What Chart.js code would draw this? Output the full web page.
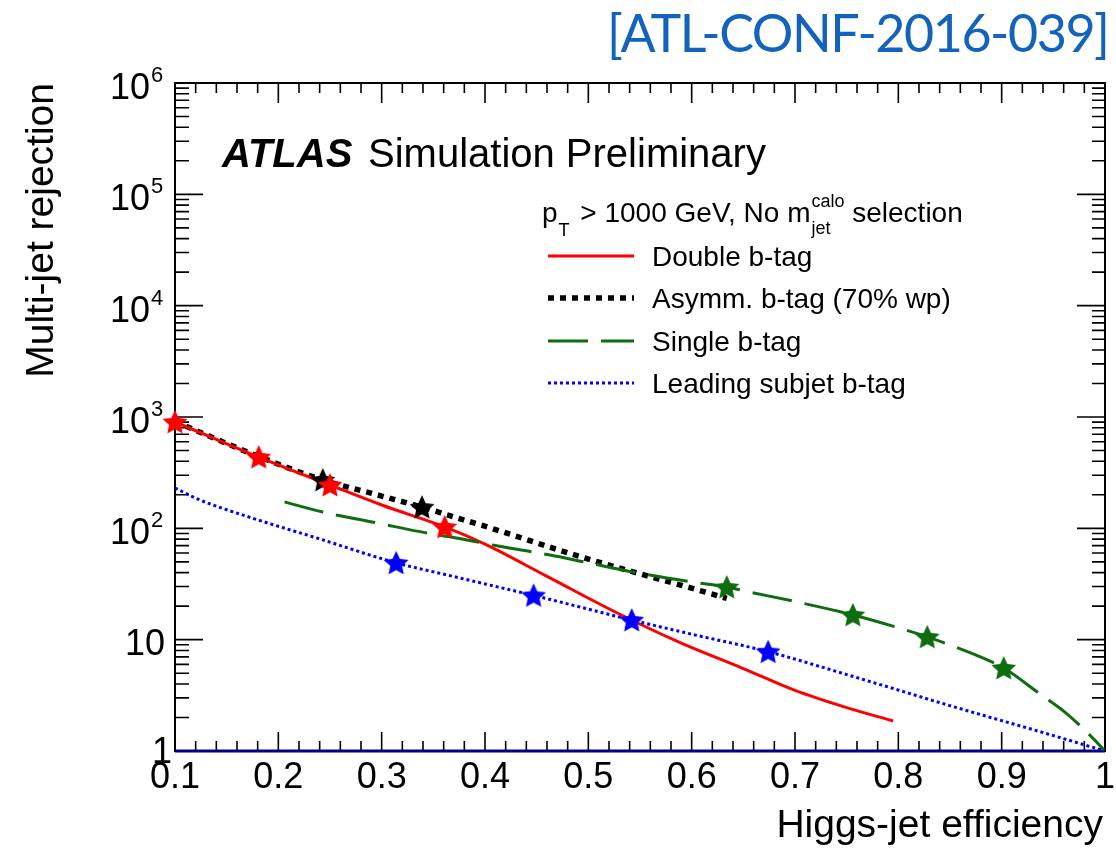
<!DOCTYPE html>
<html>
<head>
<meta charset="utf-8">
<script src="https://cdn.jsdelivr.net/npm/chart.js@4.4.1/dist/chart.umd.min.js"></script>
<style>
  html, body { margin: 0; padding: 0; background: #fff; }
  #wrap { width: 1116px; height: 852px; }
</style>
</head>
<body>
<div id="wrap"><canvas id="c" width="1116" height="852"></canvas></div>
<script>
// Double b-tag
const doubleEff = [0.10, 0.14, 0.181, 0.25, 0.30, 0.361, 0.40, 0.46, 0.53, 0.59, 0.65, 0.70, 0.75, 0.795];
const doubleRej = [903, 630, 437, 245, 162, 103, 72, 37, 17, 9.3, 5.5, 3.5, 2.45, 1.86];
const doubleStarEff = [0.10, 0.181, 0.25, 0.361];
const doubleStarRej = [903, 437, 245, 103];

// Asymm. b-tag (70% wp)
const asymEff = [0.10, 0.18, 0.243, 0.30, 0.339, 0.366, 0.414, 0.45, 0.494, 0.559, 0.60, 0.634];
const asymRej = [910, 445, 272, 195, 155, 130, 95, 74, 55, 37, 29, 23.5];
const asymStarEff = [0.243, 0.339];
const asymStarRej = [272, 155];

// Single b-tag
const singleEff = [0.206, 0.243, 0.295, 0.343, 0.366, 0.414, 0.463, 0.50, 0.543, 0.60, 0.634, 0.656, 0.70, 0.756, 0.80, 0.828, 0.87, 0.902, 0.936, 0.962, 0.987, 1.0];
const singleRej = [173, 140, 112, 91, 84, 69, 57.6, 49, 40.6, 33, 29.7, 26.8, 22, 16.7, 12.8, 10.6, 7.6, 5.57, 3.3, 2.2, 1.34, 1.0];
const singleStarEff = [0.634, 0.756, 0.828, 0.902];
const singleStarRej = [29.7, 16.7, 10.6, 5.57];

// Leading subjet b-tag
const leadEff = [0.10, 0.124, 0.172, 0.237, 0.314, 0.366, 0.414, 0.447, 0.542, 0.60, 0.674, 0.752, 0.849, 0.946, 1.0];
const leadRej = [230, 180, 126, 82, 49, 37.6, 29.5, 25, 15, 11.2, 7.8, 4.8, 2.57, 1.41, 1.0];
const leadStarEff = [0.314, 0.447, 0.542, 0.674];
const leadStarRej = [49, 25, 15, 7.8];

// line at rejection = 1
const baseEff = [0.1, 1.0];
const baseRej = [1, 1];

// axis labels
const xTickValues = [0.1, 0.2, 0.3, 0.4, 0.5, 0.6, 0.7, 0.8, 0.9, 1.0];
const xTickLabels = ['0.1', '0.2', '0.3', '0.4', '0.5', '0.6', '0.7', '0.8', '0.9', '1'];
const yTickValues = [1, 10, 100, 1000, 1e4, 1e5, 1e6];
const yTickBase = ['1', '10', '10', '10', '10', '10', '10'];
const yTickExp = ['', '', '2', '3', '4', '5', '6'];

const legendLabels = ['Double b-tag', 'Asymm. b-tag (70% wp)', 'Single b-tag', 'Leading subjet b-tag'];

const RED = '#ff0000', BLACK = '#000000', GREEN = '#0f6d0f', BLUE = '#0000ff';
const FONT = '"Liberation Sans", Arial, Helvetica, sans-serif';

function pts(xs, ys) {
  return xs.map((v, i) => ({ x: v, y: ys[i] }));
}

// filled 5-point star used as point style
function makeStar(color, r) {
  const s = Math.ceil(2 * r + 4);
  const c = document.createElement('canvas');
  c.width = s; c.height = s;
  const g = c.getContext('2d');
  g.translate(s / 2, s / 2 + 1);
  g.beginPath();
  for (let i = 0; i < 10; i++) {
    const rad = i % 2 === 0 ? r : r * 0.48;
    const a = -Math.PI / 2 + i * Math.PI / 5;
    g.lineTo(rad * Math.cos(a), rad * Math.sin(a));
  }
  g.closePath();
  g.fillStyle = color;
  g.fill();
  return c;
}

function curve(label, xs, ys, color, width, dash, order) {
  return {
    label: label, data: pts(xs, ys),
    borderColor: color, borderWidth: width, borderDash: dash,
    borderCapStyle: 'butt', pointRadius: 0, fill: false,
    cubicInterpolationMode: 'monotone', order: order
  };
}

function stars(xs, ys, color, order) {
  return {
    label: 'stars', data: pts(xs, ys), showLine: false,
    pointStyle: makeStar(color, 13), pointRadius: 10,
    clip: false, order: order
  };
}

const frame = {
  id: 'frame',
  beforeDatasetsDraw(chart) {
    const { ctx, chartArea: a, scales: { x, y } } = chart;
    ctx.save();
    ctx.strokeStyle = '#000';
    ctx.lineWidth = 2;
    ctx.strokeRect(a.left, a.top, a.right - a.left, a.bottom - a.top);
    ctx.lineWidth = 1.6;
    ctx.beginPath();
    for (let i = 0; i <= 45; i++) {
      const px = x.getPixelForValue(0.1 + i * 0.02);
      const major = i % 5 === 0;
      ctx.moveTo(px, a.bottom); ctx.lineTo(px, a.bottom - (major ? 19 : 10));
      ctx.moveTo(px, a.top); ctx.lineTo(px, a.top + (major ? 20 : 10));
    }
    for (let d = 0; d <= 6; d++) {
      for (let m = 1; m <= 9; m++) {
        if (d === 6 && m > 1) break;
        const py = y.getPixelForValue(m * Math.pow(10, d));
        const major = m === 1;
        ctx.moveTo(a.left, py); ctx.lineTo(a.left + (major ? 28 : 14), py);
        ctx.moveTo(a.right, py); ctx.lineTo(a.right - (major ? 28 : 13), py);
      }
    }
    ctx.stroke();
    ctx.restore();
  },
  afterDraw(chart) {
    const { ctx, chartArea: a, scales: { x, y } } = chart;
    ctx.save();
    ctx.fillStyle = '#000';
    ctx.textBaseline = 'alphabetic';

    // x tick labels
    ctx.font = '36px ' + FONT;
    ctx.textAlign = 'center';
    xTickValues.forEach((v, i) => {
      ctx.fillText(xTickLabels[i], x.getPixelForValue(v), 788);
    });

    // y tick labels
    yTickValues.forEach((v, i) => {
      const py = y.getPixelForValue(v);
      ctx.font = '36px ' + FONT;
      ctx.textAlign = 'right';
      if (yTickExp[i] === '') {
        if (yTickBase[i] === '1') ctx.fillText('1', 172, py + 12);
        else ctx.fillText(yTickBase[i], 165, py + 15);
      } else {
        ctx.fillText(yTickBase[i], 150, py + 16);
        ctx.font = '22px ' + FONT;
        ctx.textAlign = 'left';
        ctx.fillText(yTickExp[i], 151, py - 1);
      }
    });

    // axis titles
    ctx.font = '39px ' + FONT;
    ctx.textAlign = 'right';
    ctx.fillText('Higgs-jet efficiency', 1103, 837);
    ctx.save();
    ctx.translate(53, 83);
    ctx.rotate(-Math.PI / 2);
    ctx.fillText('Multi-jet rejection', 0, 0);
    ctx.restore();

    // ATLAS label
    ctx.textAlign = 'left';
    ctx.font = 'italic bold 40px ' + FONT;
    ctx.fillText('ATLAS', 222, 167);
    ctx.font = '40px ' + FONT;
    ctx.fillText('Simulation Preliminary', 368, 167);

    // legend header
    let cx = 542;
    ctx.font = '28px ' + FONT;
    ctx.fillText('p', cx, 222);
    cx += ctx.measureText('p').width + 1;
    ctx.font = '18px ' + FONT;
    ctx.fillText('T', cx, 236);
    cx += ctx.measureText('T').width + 3;
    ctx.font = '28px ' + FONT;
    ctx.fillText(' > 1000 GeV, No m', cx, 222);
    cx += ctx.measureText(' > 1000 GeV, No m').width + 1;
    ctx.font = '18px ' + FONT;
    ctx.fillText('jet', cx, 234);
    ctx.fillText('calo', cx, 207);
    cx += Math.max(ctx.measureText('jet').width, ctx.measureText('calo').width);
    ctx.font = '28px ' + FONT;
    ctx.fillText(' selection', cx, 222);

    // legend entries, styles from the curve datasets
    const rows = [256, 298, 341, 383];
    const ds = chart.data.datasets;
    for (let i = 0; i < 4; i++) {
      const d = ds[i + 1];
      ctx.save();
      ctx.strokeStyle = d.borderColor;
      ctx.lineWidth = d.borderWidth;
      ctx.setLineDash(d.borderDash || []);
      ctx.beginPath();
      ctx.moveTo(548, rows[i]); ctx.lineTo(634, rows[i]);
      ctx.stroke();
      ctx.restore();
      ctx.font = '28px ' + FONT;
      ctx.fillText(legendLabels[i], 652, rows[i] + 10);
    }

    // reference tag
    ctx.font = '52px Lato, "Open Sans", sans-serif';
    ctx.fillStyle = '#1263bd';
    const tag = '[ATL-CONF-2016-039]';
    const w = ctx.measureText(tag).width;
    const sp = Math.max(-2, Math.min(4, (503 - w) / (tag.length - 1)));
    ctx.letterSpacing = sp + 'px';
    ctx.textAlign = 'left';
    ctx.fillText(tag, 607, 52);
    ctx.restore();
  }
};

new Chart(document.getElementById('c'), {
  type: 'line',
  data: {
    datasets: [
      { label: 'base', data: pts(baseEff, baseRej), borderColor: '#000080', borderWidth: 3,
        pointRadius: 0, clip: false, order: 9 },
      curve(legendLabels[0], doubleEff, doubleRej, RED, 3, [], 7),
      curve(legendLabels[1], asymEff, asymRej, BLACK, 5.5, [6, 6], 8),
      curve(legendLabels[2], singleEff, singleRej, GREEN, 3, [40, 13], 6),
      curve(legendLabels[3], leadEff, leadRej, BLUE, 3, [3, 3], 5),
      stars(asymStarEff, asymStarRej, BLACK, 4),
      stars(doubleStarEff, doubleStarRej, RED, 3),
      stars(singleStarEff, singleStarRej, GREEN, 2),
      stars(leadStarEff, leadStarRej, BLUE, 1)
    ]
  },
  options: {
    responsive: false,
    animation: false,
    layout: { padding: { left: 175, top: 83, right: 10, bottom: 101 } },
    scales: {
      x: { type: 'linear', min: 0.1, max: 1.0, display: false },
      y: { type: 'logarithmic', min: 1, max: 1e6, display: false }
    },
    plugins: { legend: { display: false }, tooltip: { enabled: false } }
  },
  plugins: [frame]
});
</script>
</body>
</html>
